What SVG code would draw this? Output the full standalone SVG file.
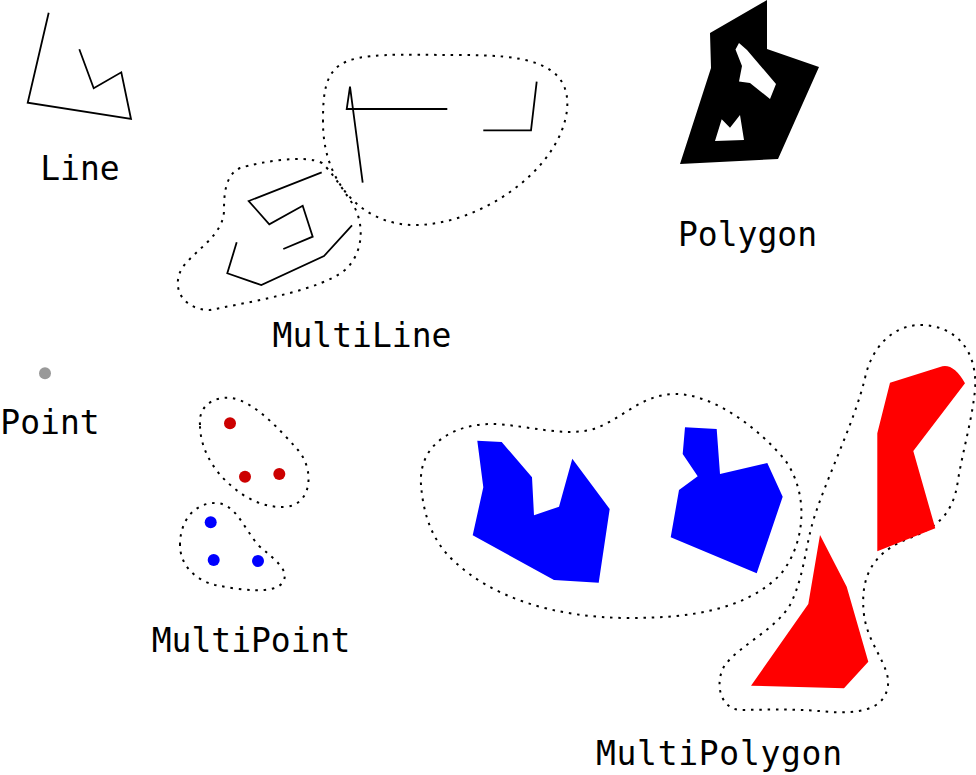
<svg xmlns="http://www.w3.org/2000/svg" width="976" height="775" viewBox="0 0 976 775">
<style>
.bg{fill:#ffffff}
.ln{fill:none;stroke:#000;stroke-width:1.8;stroke-linejoin:miter}
.hull{fill:none;stroke:#000;stroke-width:2;stroke-dasharray:2.5 5.8}
.lbl{font-family:"DejaVu Sans Mono","Liberation Mono",monospace;font-size:33px;fill:#000;text-anchor:middle}
.blue{fill:#0000ff}
.red{fill:#ff0000}
</style>
<rect class="bg" x="0" y="0" width="976" height="775"/>

<g id="line">
  <polyline class="ln" points="48.7,12.7 27.7,102.7 131,119 121.3,72.3 93.7,88.3 79.3,49.3"/>
  <text class="lbl" x="80" y="180">Line</text>
</g>

<g id="multiline">
  <path class="hull" d="M323,120 C322,180 360,225 415,225 C480,225 560,170 567,110 C572,60 520,55 460,55 C400,55 360,52 340,65 C325,75 323,95 323,120 Z"/>
  <path class="hull" d="M322,163 C305,154 260,162 240,168 C225,175 224,195 224,210 C224,235 195,250 182,268 C170,290 185,310 210,310 C260,300 320,290 345,270 C365,252 365,220 350,200 C340,185 330,170 322,163 Z"/>
  <polyline class="ln" points="536.7,81.7 531,130.3 483.3,130.3"/>
  <polyline class="ln" points="447.3,109 346.7,109 350,86.7 362.7,182.7"/>
  <polyline class="ln" points="321.7,172.3 248.7,201 269.3,224.3 302.7,205.7 312.7,236.7 283.3,249"/>
  <polyline class="ln" points="236.7,242.3 227.3,273.3 261.3,285 324,256 352,225.3"/>
  <text class="lbl" x="362" y="347">MultiLine</text>
</g>

<g id="polygon">
  <path fill="#000" fill-rule="evenodd" d="M767,0 L767,49 L819,67 L778,159 L680,164 L711,68 L710,33 Z M739,43 L735.5,49.5 L742,66 L739,81.5 L750,83 L770,99 L776,84 L747,50 Z M715,141 L721.7,119.3 L730,127.7 L740,115 L744,140 Z"/>
  <text class="lbl" x="747.5" y="246">Polygon</text>
</g>

<g id="point">
  <circle cx="45" cy="373.3" r="6" fill="#999999"/>
  <text class="lbl" x="50" y="434">Point</text>
</g>

<g id="multipoint">
  <path class="hull" d="M200,425 C198,405 215,396 232,398 C255,402 280,430 298,450 C315,470 312,505 285,507 C260,508 240,495 225,480 C210,465 200,445 200,425 Z"/>
  <path class="hull" d="M180,545 C180,520 195,503 215,503 C235,503 242,525 258,545 C275,560 290,570 283,582 C275,595 240,590 215,585 C195,580 180,565 180,545 Z"/>
  <circle cx="230" cy="423.3" r="6" fill="#cc0000"/>
  <circle cx="245" cy="476.7" r="6" fill="#cc0000"/>
  <circle cx="279.3" cy="474" r="6" fill="#cc0000"/>
  <circle cx="210.7" cy="522.3" r="6" fill="#0000ff"/>
  <circle cx="213.7" cy="560" r="6" fill="#0000ff"/>
  <circle cx="258" cy="561" r="6" fill="#0000ff"/>
  <text class="lbl" x="251" y="652">MultiPoint</text>
</g>

<g id="multipolygon">
  <path class="hull" d="M421,485 C418,440 460,423 495,424 C530,426 560,436 590,430 C620,422 640,394 675,394 C715,394 760,430 785,460 C810,495 805,545 780,575 C745,610 690,618 630,618 C550,618 490,595 455,562 C430,540 423,510 421,485 Z"/>
  <path class="hull" d="M865,378 C872,345 895,325 920,325 C955,325 978,350 975,390 C972,420 963,450 958,480 C953,520 930,530 905,540 C870,555 860,580 864,615 C868,645 890,665 888,685 C885,712 855,713 830,712 C790,708 760,710 740,710 C718,708 715,680 725,665 C740,645 775,630 790,605 C805,575 805,545 815,515 C830,470 855,420 865,378 Z"/>
  <polygon class="blue" points="477.3,440.7 501.7,442 532,477.3 534,515.3 559,506.7 572.3,458.7 609.7,509 598.7,582.7 554,580 472.7,535.3 483.3,487.3"/>
  <polygon class="blue" points="685,427.3 716.7,429 720,474 767.3,463 782.7,496.7 756.7,573.3 670.7,537.3 679,490 697.7,476.3 682.7,454"/>
  <path class="red" d="M890,382.7 L940,367 Q953,362 965,383.3 L913.3,451 L935.3,528.3 L877.3,551.3 L877.3,433.3 Z"/>
  <polygon class="red" points="820,535 846.7,586.7 868.3,661.7 844,688.3 751,685.7 808.3,604"/>
  <text class="lbl" x="719" y="765" textLength="246">MultiPolygon</text>
</g>
</svg>
